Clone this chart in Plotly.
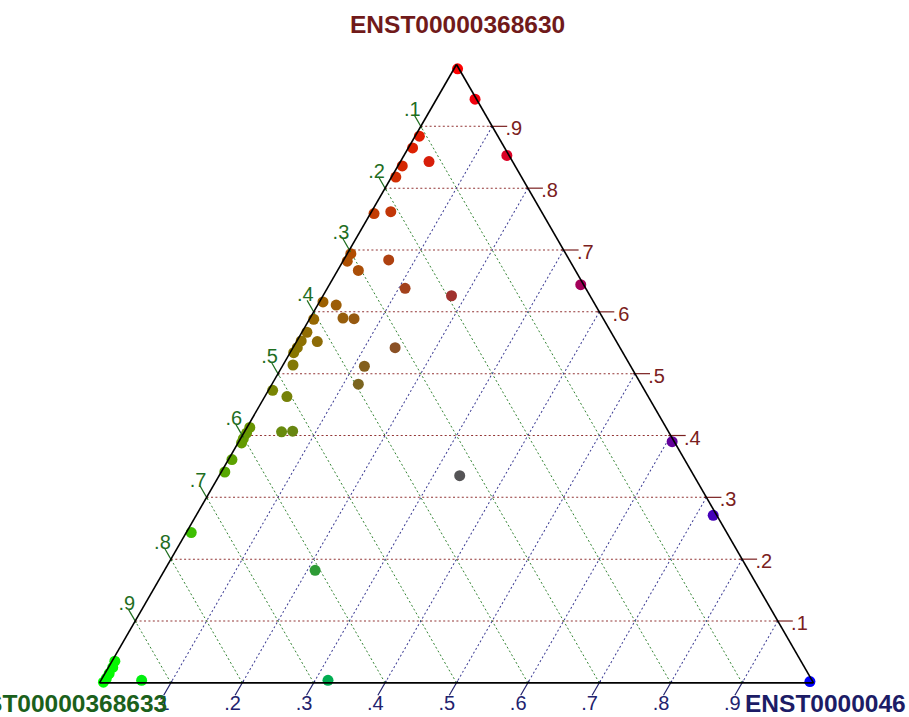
import math
import plotly.graph_objects as go

FONT = "Liberation Sans, Arial, Helvetica, sans-serif"

# Transcript names at the three corners (top, bottom-left, bottom-right)
top_name = "ENST00000368630"
left_name = "ENST00000368633"
right_name = "ENST0000046"

# Relative share of each transcript per sample
frac_top = [0.993, 0.944, 0.853, 0.884, 0.865, 0.843, 0.836, 0.818, 0.762, 0.759,
            0.694, 0.682, 0.667, 0.684, 0.638, 0.626, 0.616, 0.611, 0.590, 0.589,
            0.588, 0.567, 0.553, 0.542, 0.534, 0.552, 0.542, 0.514, 0.512, 0.483,
            0.473, 0.463, 0.406, 0.407, 0.413, 0.404, 0.395, 0.388, 0.361, 0.341,
            0.243, 0.182, 0.335, 0.390, 0.271, 0.644, 0.004, 0.004, 0.002, 0.035,
            0.025, 0.015, 0.007, 0.001]
frac_left = [0.002, 0.002, 0.003, 0.110, 0.129, 0.117, 0.158, 0.176, 0.211, 0.236,
             0.301, 0.312, 0.304, 0.253, 0.253, 0.194, 0.379, 0.363, 0.364, 0.349,
             0.406, 0.426, 0.441, 0.452, 0.461, 0.419, 0.315, 0.472, 0.373, 0.396,
             0.521, 0.506, 0.542, 0.526, 0.583, 0.592, 0.601, 0.607, 0.634, 0.654,
             0.750, 0.607, 0.328, 0.003, 0.005, 0.004, 0.939, 0.678, 0.004, 0.961,
             0.969, 0.979, 0.987, 0.994]
frac_right = [0.005, 0.054, 0.144, 0.006, 0.006, 0.040, 0.006, 0.006, 0.027, 0.005,
              0.005, 0.006, 0.029, 0.063, 0.109, 0.180, 0.005, 0.026, 0.046, 0.062,
              0.006, 0.007, 0.006, 0.006, 0.005, 0.029, 0.143, 0.014, 0.115, 0.121,
              0.006, 0.031, 0.052, 0.067, 0.004, 0.004, 0.004, 0.005, 0.005, 0.005,
              0.007, 0.211, 0.337, 0.607, 0.724, 0.352, 0.057, 0.318, 0.994, 0.004,
              0.006, 0.006, 0.006, 0.005]

tick_values = [0.1, 0.2, 0.3, 0.4, 0.5, 0.6, 0.7, 0.8, 0.9]
tick_text = [".1", ".2", ".3", ".4", ".5", ".6", ".7", ".8", ".9"]

# colours per corner: titles, tick labels/marks, grid
TOP_DARK, LEFT_DARK, RIGHT_DARK = "#701A1A", "#1B601B", "#1C1C66"
TOP_TICK, LEFT_TICK, RIGHT_TICK = "#7A2020", "#1F6E1F", "#22226E"
TOP_GRID, LEFT_GRID, RIGHT_GRID = "#923636", "#348434", "#3C3C94"

# each sample is coloured by mixing red/green/blue in proportion to its shares
point_colors = []
for a, b, c in zip(frac_top, frac_left, frac_right):
    s = a + b + c
    point_colors.append("rgb({},{},{})".format(round(255 * a / s), round(255 * b / s), round(255 * c / s)))

# page / triangle geometry (px)
W, H = 909, 717
TRI_LEFT, TRI_WIDTH, TRI_TOP = 99.5, 714.0, 64.5
tri_height = TRI_WIDTH * math.sqrt(3) / 2
y_center = 1 - (TRI_TOP + tri_height / 2) / H
dom_x = [TRI_LEFT / W, (TRI_LEFT + TRI_WIDTH) / W]
dom_y = [y_center - 0.45, y_center + 0.45]

TICK_FONT = 20


def axis_style(grid_color):
    return dict(min=0, tickmode="array", tickvals=tick_values, showticklabels=False,
                ticks="", showgrid=True, gridcolor=grid_color, gridwidth=1,
                griddash="2px,2.4px", showline=True, linecolor="black",
                linewidth=1.6, title=dict(text=""))


def tick_marks(a, b, c, angle, length, color):
    return go.Scatterternary(
        a=a, b=b, c=c, mode="markers", cliponaxis=False, hoverinfo="skip",
        showlegend=False,
        marker=dict(symbol="line-ns", size=length, angle=angle, standoff=length / 2,
                    color=color, line=dict(width=1.2, color=color)))


def tick_labels(a, b, c, position, offset_px, color):
    # an invisible marker sets how far the text sits from its anchor
    return go.Scatterternary(
        a=a, b=b, c=c, mode="markers+text", text=tick_text, textposition=position,
        textfont=dict(family=FONT, size=TICK_FONT, color=color),
        cliponaxis=False, hoverinfo="skip", showlegend=False,
        marker=dict(size=2 * 0.8 * (offset_px - 1), color="rgba(0,0,0,0)"))


fig = go.Figure()

# samples
fig.add_trace(go.Scatterternary(
    a=frac_top, b=frac_left, c=frac_right, mode="markers", cliponaxis=False,
    showlegend=False,
    marker=dict(size=11, color=point_colors, line=dict(width=0))))

# top component: ticks and labels on the right edge
fig.add_trace(tick_marks(tick_values, [0] * 9, [1 - v for v in tick_values], -90, 12.5, TOP_TICK))
RIGHT_NUDGE = 0.0066
fig.add_trace(tick_labels([v - RIGHT_NUDGE for v in tick_values], [0] * 9,
                          [1 - v + RIGHT_NUDGE for v in tick_values],
                          "middle right", 10.95, TOP_TICK))

# left component: ticks and labels on the left edge
fig.add_trace(tick_marks([1 - v for v in tick_values], tick_values, [0] * 9, 150, 11, LEFT_TICK))
LEFT_NUDGE = 0.0056
fig.add_trace(tick_labels([1 - v + LEFT_NUDGE for v in tick_values],
                          [v - LEFT_NUDGE for v in tick_values], [0] * 9,
                          "top left", 2.1, LEFT_TICK))

# right component: ticks and labels on the bottom edge
fig.add_trace(tick_marks([0] * 9, [1 - v for v in tick_values], tick_values, 30, 12, RIGHT_TICK))
BOTTOM_NUDGE = 0.0136
fig.add_trace(tick_labels([0] * 9, [1 - v + BOTTOM_NUDGE for v in tick_values],
                          [v - BOTTOM_NUDGE for v in tick_values],
                          "bottom center", 12.0, RIGHT_TICK))

title_font = dict(family=FONT, size=24.5, weight="bold")
annotations = [
    dict(text=top_name, x=457.5 / W, y=1 - 24.5 / H, xanchor="center", yanchor="middle",
         font=dict(title_font, color=TOP_DARK)),
    dict(text=left_name, x=59 / W, y=1 - 703 / H, xanchor="center", yanchor="middle",
         font=dict(title_font, color=LEFT_DARK)),
    dict(text=right_name, x=743 / W, y=1 - 703.5 / H, xanchor="left", yanchor="middle",
         font=dict(title_font, color=RIGHT_DARK)),
]
for ann in annotations:
    ann.update(xref="paper", yref="paper", showarrow=False)

fig.update_layout(
    width=W, height=H, margin=dict(l=0, r=0, t=0, b=0),
    paper_bgcolor="white", plot_bgcolor="white",
    font=dict(family=FONT),
    ternary=dict(
        domain=dict(x=dom_x, y=dom_y), sum=1, bgcolor="white",
        aaxis=axis_style(TOP_GRID),
        baxis=axis_style(LEFT_GRID),
        caxis=axis_style(RIGHT_GRID),
    ),
    annotations=annotations,
)

fig.write_html("out.html")
